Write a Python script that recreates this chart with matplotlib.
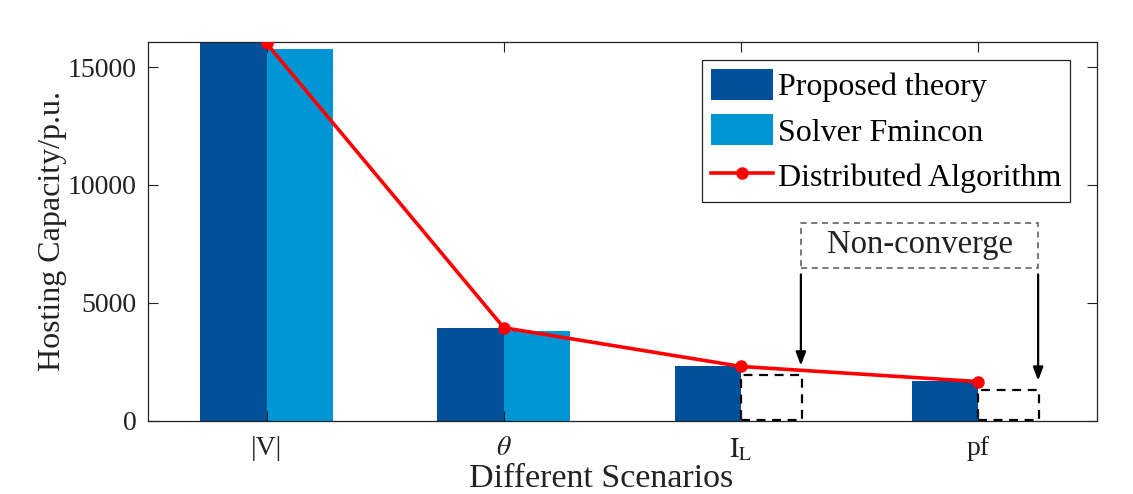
import numpy as np
import matplotlib
matplotlib.use("Agg")
import matplotlib.pyplot as plt
from matplotlib.patches import Rectangle

plt.rcParams["font.family"] = ["Liberation Serif", "DejaVu Serif"]
plt.rcParams["mathtext.fontset"] = "stix"

# data
scenarios = ["|V|", r"$\theta$", r"$\mathrm{I_L}$", "pf"]
proposed = [16050, 3930, 2320, 1700]
fmincon = [15770, 3800]            # solver does not converge for the last two
placeholder = [1950, 1310]          # dashed boxes for the non-converged cases
distributed = [16000, 3950, 2310, 1670]

dark = "#00509A"
light = "#0096D6"

x = np.arange(1, len(scenarios) + 1)
w = 0.28

fig = plt.figure(figsize=(11.33, 4.94), dpi=100)
ax = fig.add_axes([0.1306, 0.1478, 0.8376, 0.7672])

b1 = ax.bar(x - w / 2, proposed, w, color=dark, label="Proposed theory")
b2 = ax.bar(x[:2] + w / 2, fmincon, w, color=light, label="Solver Fmincon")
ax.bar(x[2:], np.array(placeholder) - 50, w * 0.92, bottom=50, align="edge",
       fill=False, edgecolor="k", linestyle=(0, (4, 3)), linewidth=1.6)
l1, = ax.plot(x, distributed, "-o", color="red", lw=2.6, ms=8,
              label="Distributed Algorithm", zorder=5)

# non-converge note with arrows
xa = x[2:] + w * 0.9
ax.add_patch(Rectangle((xa[0], 6480), xa[1] - xa[0], 1900, fill=False,
                       ec="#555555", ls=(0, (4, 3)), lw=1.1, zorder=6))
ax.text(xa.mean(), 7450, "Non-converge", ha="center", va="center", fontsize=23.5,
        color="#222222")
for xi, top in zip(xa, placeholder):
    ax.annotate("", xy=(xi, top + 280), xytext=(xi, 6330),
                arrowprops=dict(arrowstyle="-|>,head_length=0.8,head_width=0.3",
                                color="k", lw=1.6))

ax.set_xlim(0.5, 4.5)
ax.set_ylim(0, 16060)
ax.set_xticks(x)
ax.set_xticklabels(scenarios)
ax.set_yticks([0, 5000, 10000, 15000])
ax.tick_params(direction="in", top=True, right=True, length=7, width=0.8,
               labelsize=20, colors="#222222")
ax.tick_params(axis="x", pad=11)
ax.tick_params(axis="y", pad=8)
for s in ax.spines.values():
    s.set_linewidth(0.9)
    s.set_color("#222222")

ax.set_ylabel("Hosting Capacity/p.u.", fontsize=23, color="#222222")
ax.set_xlabel("Different Scenarios", fontsize=24.5, color="#222222")
ax.xaxis.set_label_coords((601 - 148) / 949, -0.113)
ax.yaxis.set_label_coords(-0.085, 0.5)

leg = ax.legend([b1, b2, l1], ["Proposed theory", "Solver Fmincon", "Distributed Algorithm"],
                loc="upper right", bbox_to_anchor=(0.9715, 0.952), fontsize=23,
                fancybox=False, framealpha=1, edgecolor="#222222",
                handlelength=1.95, handleheight=1.1, handletextpad=0.15,
                labelspacing=0.38, borderpad=0.28, borderaxespad=0)
leg.get_frame().set_linewidth(0.9)

fig.savefig("out.png", dpi=100)
